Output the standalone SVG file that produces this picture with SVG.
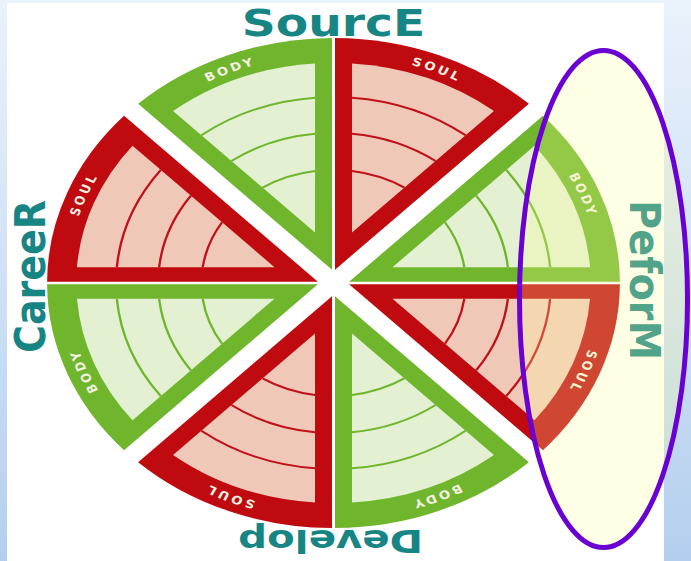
<svg xmlns="http://www.w3.org/2000/svg" xmlns:xlink="http://www.w3.org/1999/xlink" width="691" height="561" viewBox="0 0 691 561">
<defs>
<style>
.gband{fill:#70b62d}
.gfill{fill:#e3f0d2}
.garc{fill:none;stroke:#70b62d;stroke-width:2}
.rband{fill:#bf0a10}
.rfill{fill:#f0c8b8}
.rarc{fill:none;stroke:#c0101a;stroke-width:2}
.lbl{font-family:"DejaVu Sans",sans-serif;font-size:11.5px;font-weight:bold;letter-spacing:2.5px;fill:#f4f0e2}
.big{font-family:"DejaVu Sans",sans-serif;font-weight:bold;font-size:37px;fill:#178584}
</style>
<linearGradient id="bg" x1="0" y1="0" x2="0" y2="1">
<stop offset="0" stop-color="#eaf2fb"/>
<stop offset="1" stop-color="#b4cfee"/>
</linearGradient>
<path id="wOuter" d="M -1.3 -13.32 L -1.3 -245 A 245 245 0 0 0 -167.13 -179.15 Z"/>
<path id="wInner" d="M -15.8 -50.45 L -15.8 -219.43 A 220 220 0 0 0 -137.27 -171.92 Z"/>
<path id="wArcs" d="M -15.8 -185.33 A 186 186 0 0 0 -113.05 -147.70 M -15.8 -149.17 A 150 150 0 0 0 -87.32 -121.97 M -15.8 -111.89 A 113 113 0 0 0 -60.68 -95.33"/>
<path id="pathL" d="M -161.22 -161.22 A 228 228 0 0 1 0 -228"/>
<path id="pathR" d="M 0 -228 A 228 228 0 0 1 161.22 -161.22"/>
</defs>
<rect x="0" y="0" width="691" height="561" fill="url(#bg)"/>
<rect x="7" y="3" width="657" height="558" fill="#ffffff"/>
<g transform="translate(333.5 283) scale(1.169 1)">
<g id="quad-source">
<g id="source-body"><use href="#wOuter" class="gband"/><use href="#wInner" class="gfill"/><use href="#wArcs" class="garc"/><text class="lbl"><textPath href="#pathL" startOffset="50%" text-anchor="middle">BODY</textPath></text></g>
<g id="source-soul"><g transform="scale(-1 1)"><use href="#wOuter" class="rband"/><use href="#wInner" class="rfill"/><use href="#wArcs" class="rarc"/></g><text class="lbl"><textPath href="#pathR" startOffset="50%" text-anchor="middle">SOUL</textPath></text></g>
<text id="label-source" class="big" x="0" y="-247" text-anchor="middle" textLength="157" lengthAdjust="spacingAndGlyphs">SourcE</text>
</g>
<g id="quad-peform" transform="rotate(90)">
<g id="peform-body"><use href="#wOuter" class="gband"/><use href="#wInner" class="gfill"/><use href="#wArcs" class="garc"/><text class="lbl"><textPath href="#pathL" startOffset="50%" text-anchor="middle">BODY</textPath></text></g>
<g id="peform-soul"><g transform="scale(-1 1)"><use href="#wOuter" class="rband"/><use href="#wInner" class="rfill"/><use href="#wArcs" class="rarc"/></g><text class="lbl"><textPath href="#pathR" startOffset="50%" text-anchor="middle">SOUL</textPath></text></g>
<text id="label-peform" class="big" x="-3" y="-254" text-anchor="middle" textLength="160" lengthAdjust="spacingAndGlyphs">PeforM</text>
</g>
<g id="quad-develop" transform="rotate(180)">
<g id="develop-body"><use href="#wOuter" class="gband"/><use href="#wInner" class="gfill"/><use href="#wArcs" class="garc"/><text class="lbl"><textPath href="#pathL" startOffset="50%" text-anchor="middle">BODY</textPath></text></g>
<g id="develop-soul"><g transform="scale(-1 1)"><use href="#wOuter" class="rband"/><use href="#wInner" class="rfill"/><use href="#wArcs" class="rarc"/></g><text class="lbl"><textPath href="#pathR" startOffset="50%" text-anchor="middle">SOUL</textPath></text></g>
<text id="label-develop" class="big" style="font-size:32px" x="2.5" y="-247" text-anchor="middle" textLength="158" lengthAdjust="spacingAndGlyphs">Develop</text>
</g>
<g id="quad-career" transform="rotate(270)">
<g id="career-body"><use href="#wOuter" class="gband"/><use href="#wInner" class="gfill"/><use href="#wArcs" class="garc"/><text class="lbl"><textPath href="#pathL" startOffset="50%" text-anchor="middle">BODY</textPath></text></g>
<g id="career-soul"><g transform="scale(-1 1)"><use href="#wOuter" class="rband"/><use href="#wInner" class="rfill"/><use href="#wArcs" class="rarc"/></g><text class="lbl"><textPath href="#pathR" startOffset="50%" text-anchor="middle">SOUL</textPath></text></g>
<text id="label-career" class="big" x="6.5" y="-247" text-anchor="middle" textLength="153" lengthAdjust="spacingAndGlyphs">CareeR</text>
</g>
</g>
<g id="highlight">
<ellipse cx="603.5" cy="299" rx="84" ry="248.5" fill="#ffff99" fill-opacity="0.25" stroke="#6a00d2" stroke-width="5"/>
</g>
</svg>
